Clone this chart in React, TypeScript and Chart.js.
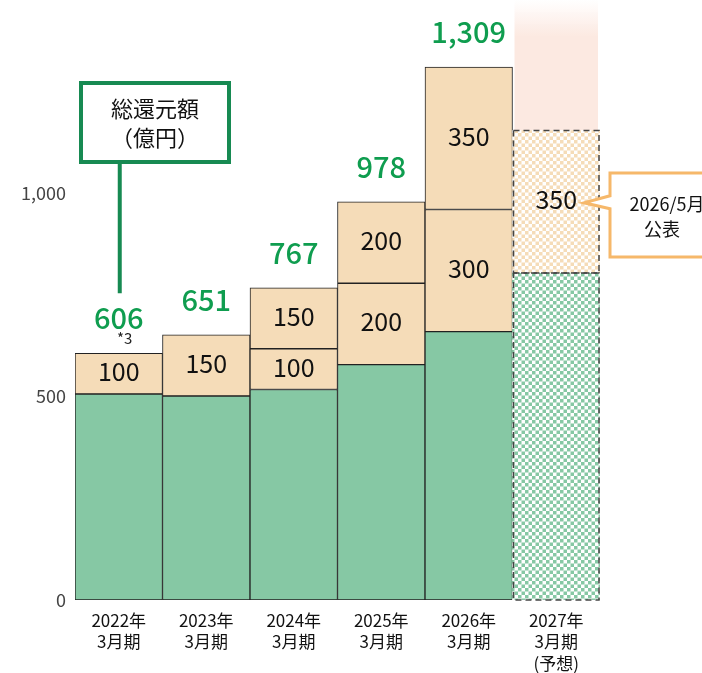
import React, { useEffect, useRef } from "react";
import { Chart, registerables } from "chart.js";

Chart.register(...registerables);

const categories: string[][] = [
  ["2022年", "3月期"],
  ["2023年", "3月期"],
  ["2024年", "3月期"],
  ["2025年", "3月期"],
  ["2026年", "3月期"],
  ["2027年", "3月期", "(予想)"],
];
const baseValues = [506, 501, 517, 578, 659, 803];
const addValues1 = [100, 150, 100, 200, 300, 350];
const addValues2: (number | null)[] = [null, null, 150, 200, 350, null];
const totals: (number | null)[] = [606, 651, 767, 978, 1309, null];
const yTicks = [0, 500, 1000];
const forecastIndex = 5;

const GREEN = "#86c8a4";
const BEIGE = "#f5dcb8";
const TOTAL_GREEN = "#0f9d4f";
const FONT = "'Noto Sans CJK JP', 'Noto Sans', sans-serif";

function makeChecker(color: string): CanvasPattern | string {
  const c = document.createElement("canvas");
  c.width = 7;
  c.height = 7;
  const g = c.getContext("2d");
  if (!g) return color;
  g.fillStyle = "#ffffff";
  g.fillRect(0, 0, 7, 7);
  g.fillStyle = color;
  g.fillRect(0, 0, 3.5, 3.5);
  g.fillRect(3.5, 3.5, 3.5, 3.5);
  const p = g.createPattern(c, "repeat");
  return p || color;
}

const fmt = (v: number) => v.toLocaleString("en-US");

export default function App() {
  const ref = useRef<HTMLCanvasElement>(null);

  useEffect(() => {
    if (!ref.current) return;
    const greenPat = makeChecker(GREEN);
    const beigePat = makeChecker(BEIGE);
    const bgFor = (solid: string, pat: CanvasPattern | string) =>
      categories.map((_, i) => (i === forecastIndex ? pat : solid));
    const bwFor = () => categories.map((_, i) => (i === forecastIndex ? 0 : 1));

    const decor = {
      id: "decor",
      beforeDatasetsDraw(chart: any) {
        const ctx = chart.ctx as CanvasRenderingContext2D;
        const bar = chart.getDatasetMeta(1).data[forecastIndex] as any;
        if (!bar) return;
        const left = bar.x - bar.width / 2;
        const top = 0;
        const bottom = bar.y;
        const grad = ctx.createLinearGradient(0, top, 0, top + 36);
        grad.addColorStop(0, "rgba(252,233,225,0)");
        grad.addColorStop(1, "rgba(252,233,225,1)");
        ctx.save();
        ctx.fillStyle = grad;
        ctx.fillRect(left + 2, top, bar.width - 4, bottom - top);
        ctx.restore();
      },
      afterDatasetsDraw(chart: any) {
        const ctx = chart.ctx as CanvasRenderingContext2D;
        const xs = chart.scales.x;
        const ys = chart.scales.y;
        ctx.save();
        [0, 1].forEach((di) => {
          const b = chart.getDatasetMeta(di).data[forecastIndex] as any;
          if (!b) return;
          ctx.setLineDash([6, 4]);
          ctx.strokeStyle = "#444";
          ctx.lineWidth = 1.5;
          ctx.strokeRect(b.x - b.width / 2 + 1, b.y, b.width - 2, b.base - b.y);
        });
        ctx.setLineDash([]);
        ctx.fillStyle = "#111";
        ctx.font = `400 25px ${FONT}`;
        ctx.textAlign = "center";
        ctx.textBaseline = "middle";
        [1, 2].forEach((di) => {
          const meta = chart.getDatasetMeta(di);
          const data = chart.data.datasets[di].data;
          meta.data.forEach((b: any, i: number) => {
            const v = data[i];
            if (v == null) return;
            ctx.fillText(String(v), b.x, (b.y + b.base) / 2 - 2);
          });
        });
        ctx.fillStyle = TOTAL_GREEN;
        ctx.font = `500 29px ${FONT}`;
        totals.forEach((t, i) => {
          if (t == null) return;
          const x = xs.getPixelForValue(i);
          const y = ys.getPixelForValue(t);
          ctx.fillText(fmt(t), x, y - 35);
        });
        ctx.fillStyle = "#222";
        ctx.font = `400 15px ${FONT}`;
        ctx.fillText("*3", xs.getPixelForValue(0) + 6, ys.getPixelForValue(totals[0] as number) - 15);

        const x0 = xs.getPixelForValue(0);
        ctx.strokeStyle = "#178a52";
        ctx.lineWidth = 4;
        ctx.beginPath();
        ctx.moveTo(x0 + 1, ys.getPixelForValue(totals[0] as number) - 60);
        ctx.lineTo(x0 + 1, 163);
        ctx.stroke();
        ctx.fillStyle = "#ffffff";
        ctx.fillRect(81, 83, 148, 79);
        ctx.strokeRect(81, 83, 148, 79);
        ctx.fillStyle = "#111";
        ctx.font = `400 22px ${FONT}`;
        ctx.fillText("総還元額", 155, 109);
        ctx.fillText("（億円）", 155, 138);

        const fb = chart.getDatasetMeta(1).data[forecastIndex] as any;
        const cy = (fb.y + fb.base) / 2;
        const bx = 610;
        ctx.strokeStyle = "#f6b86a";
        ctx.lineWidth = 3;
        ctx.fillStyle = "#ffffff";
        ctx.beginPath();
        ctx.moveTo(720, 173);
        ctx.lineTo(bx, 173);
        ctx.lineTo(bx, cy - 6);
        ctx.lineTo(584, cy + 1);
        ctx.lineTo(bx, cy + 7);
        ctx.lineTo(bx, 257);
        ctx.lineTo(720, 257);
        ctx.fill();
        ctx.stroke();
        ctx.fillStyle = "#111";
        ctx.font = `400 18px ${FONT}`;
        ctx.fillText("2026/5月", 667, 204);
        ctx.fillText("公表", 662, 229);
        ctx.restore();
      },
    };

    const chart = new Chart(ref.current, {
      type: "bar",
      data: {
        labels: categories,
        datasets: [
          {
            data: baseValues,
            backgroundColor: bgFor(GREEN, greenPat) as any,
            borderColor: "#222",
            borderWidth: bwFor(),
            borderSkipped: false,
          },
          {
            data: addValues1,
            backgroundColor: bgFor(BEIGE, beigePat) as any,
            borderColor: "#222",
            borderWidth: bwFor(),
            borderSkipped: false,
          },
          {
            data: addValues2,
            backgroundColor: BEIGE,
            borderColor: "#222",
            borderWidth: 1,
            borderSkipped: false,
          },
        ],
      },
      options: {
        animation: false,
        responsive: false,
        maintainAspectRatio: false,
        layout: { padding: { left: 0, right: 102, top: 0, bottom: 0 } },
        datasets: { bar: { barPercentage: 1, categoryPercentage: 1 } },
        plugins: {
          legend: { display: false },
          tooltip: { enabled: false },
          title: { display: false },
        },
        scales: {
          x: {
            stacked: true,
            grid: { display: false, drawTicks: false },
            border: { display: false },
            ticks: {
              color: "#111",
              padding: 10,
              font: { family: FONT, size: 17, lineHeight: 1.25 },
              maxRotation: 0,
              autoSkip: false,
            },
            afterFit: (s: any) => {
              s.height = 73;
            },
          },
          y: {
            stacked: true,
            min: 0,
            max: 1425,
            grid: { display: false, drawTicks: false },
            border: { display: false },
            afterBuildTicks: (s: any) => {
              s.ticks = yTicks.map((v) => ({ value: v }));
            },
            ticks: {
              color: "#444",
              padding: 9,
              font: { family: FONT, size: 18 },
              callback: (v: any) => fmt(Number(v)),
            },
            afterFit: (s: any) => {
              s.width = 75;
            },
          },
        },
      },
      plugins: [decor],
    });
    return () => chart.destroy();
  }, []);

  return (
    <div style={{ position: "fixed", left: 0, top: 0, width: 702, height: 673, background: "#fff" }}>
      <canvas ref={ref} width={702} height={673} style={{ display: "block" }} />
    </div>
  );
}
